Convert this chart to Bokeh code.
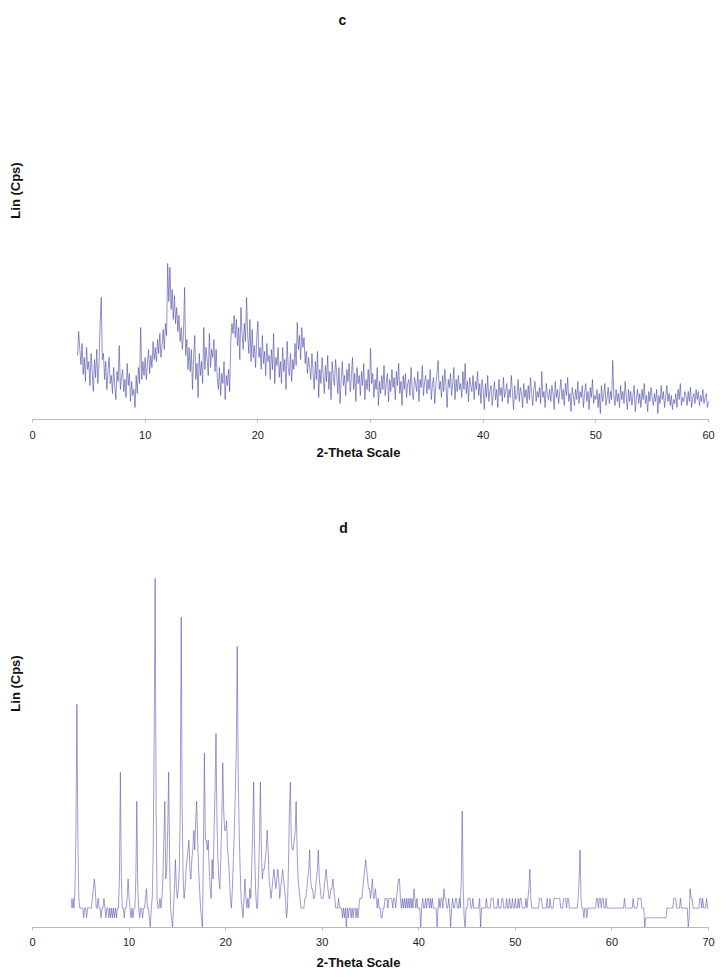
from bokeh.plotting import figure
from bokeh.models import Range1d, FixedTicker, Label
from bokeh.layouts import column
from bokeh.embed import file_html
from bokeh.resources import INLINE
import numpy as np

# ---------------- data ----------------
c_title = "c"
d_title = "d"
x_label = "2-Theta Scale"
y_label = "Lin (Cps)"

c_start, c_step = 4.0, 0.1
c_counts = [
    64, 88, 70, 55, 76, 45, 62, 38, 72, 50,   # 4
    58, 34, 66, 48, 28, 60, 42, 70, 36, 55,   # 5
    95, 122, 60, 66, 40, 58, 30, 48, 62, 36,  # 6
    44, 26, 52, 34, 20, 48, 38, 74, 30, 42,   # 7
    50, 28, 40, 22, 56, 34, 46, 18, 38, 24,   # 8
    30, 12, 44, 26, 52, 36, 92, 40, 58, 44,   # 9
    62, 40, 56, 70, 46, 64, 52, 78, 60, 72,   # 10
    58, 80, 66, 86, 62, 74, 90, 70, 96, 84,   # 11
    156, 118, 152, 110, 130, 100, 124, 96, 112, 88,  # 12
    104, 78, 92, 70, 86, 132, 64, 80, 50, 72,  # 13
    48, 70, 30, 62, 84, 40, 56, 22, 66, 44,   # 14
    58, 36, 92, 50, 72, 60, 44, 86, 52, 70,   # 15
    62, 80, 48, 70, 42, 30, 52, 24, 46, 36,   # 16
    58, 20, 44, 34, 50, 28, 78, 96, 86, 104,  # 17
    82, 100, 74, 92, 60, 112, 86, 70, 96, 78, # 18
    122, 84, 66, 100, 58, 90, 62, 74, 52, 80, # 19
    98, 62, 72, 50, 84, 56, 68, 44, 76, 58,   # 20
    64, 40, 70, 50, 86, 36, 62, 54, 72, 42,   # 21
    58, 36, 72, 48, 60, 30, 78, 52, 44, 66,   # 22
    38, 60, 50, 76, 54, 97, 70, 84, 60, 92,   # 23
    72, 82, 56, 68, 46, 62, 52, 40, 66, 48,   # 24
    30, 58, 40, 68, 22, 50, 36, 62, 44, 26,   # 25
    54, 38, 64, 30, 48, 20, 58, 42, 34, 60,   # 26
    46, 26, 52, 16, 40, 58, 34, 44, 24, 50,   # 27
    38, 56, 28, 42, 62, 30, 46, 18, 52, 36,   # 28
    44, 24, 48, 34, 56, 20, 40, 30, 50, 28,   # 29
    71, 36, 46, 22, 40, 30, 52, 14, 38, 26,   # 30
    44, 30, 54, 24, 36, 46, 18, 40, 28, 50,   # 31
    32, 42, 20, 48, 34, 56, 26, 38, 14, 44,   # 32
    30, 46, 22, 36, 40, 24, 52, 30, 20, 42,   # 33
    36, 28, 48, 18, 40, 32, 54, 24, 38, 44,   # 34
    26, 40, 30, 50, 20, 36, 42, 16, 34, 46,   # 35
    59, 30, 38, 22, 44, 28, 50, 34, 12, 40,   # 36
    32, 46, 24, 36, 52, 20, 40, 28, 44, 30,   # 37
    36, 22, 48, 30, 56, 26, 38, 18, 42, 34,   # 38
    28, 44, 20, 38, 30, 48, 24, 36, 16, 40,   # 39
    30, 10, 36, 22, 44, 18, 28, 34, 14, 26,   # 40
    38, 20, 30, 12, 40, 24, 32, 18, 42, 22,   # 41
    28, 36, 16, 30, 22, 44, 26, 10, 34, 20,   # 42
    24, 40, 18, 32, 26, 12, 36, 22, 30, 16,   # 43
    34, 20, 42, 26, 14, 30, 38, 18, 28, 22,   # 44
    32, 16, 48, 22, 28, 12, 36, 24, 20, 30,   # 45
    18, 34, 26, 10, 38, 22, 30, 16, 28, 40,   # 46
    20, 30, 14, 36, 24, 42, 18, 26, 8, 32,    # 47
    24, 14, 30, 20, 38, 16, 28, 22, 34, 12,   # 48
    26, 36, 18, 28, 10, 32, 22, 40, 16, 24,   # 49
    20, 30, 12, 26, 6, 34, 18, 24, 36, 14,    # 50
    22, 32, 16, 28, 20, 59, 24, 14, 30, 18,   # 51
    26, 12, 34, 20, 28, 16, 38, 22, 10, 30,   # 52
    18, 28, 14, 24, 34, 8, 22, 30, 16, 26,    # 53
    12, 30, 20, 36, 16, 24, 8, 28, 18, 32,    # 54
    22, 14, 26, 18, 30, 6, 24, 16, 34, 20,    # 55
    28, 12, 22, 34, 18, 26, 14, 24, 10, 20,   # 56
    16, 26, 12, 30, 20, 36, 14, 22, 18, 28,   # 57
    24, 14, 28, 18, 32, 12, 22, 26, 16, 30,   # 58
    20, 28, 14, 24, 18, 30, 16, 22, 26, 12,   # 59
    18,                                       # 60
]

d_start, d_step = 4.0, 0.1
d_counts = [
    3, 2, 3, 2, 4, 10, 23, 9, 3, 2,     # 4
    2, 2, 2, 1, 2, 2, 1, 2, 2, 2,       # 5
    2, 2, 3, 4, 5, 4, 2, 2, 3, 2,       # 6
    2, 1, 2, 2, 3, 2, 1, 2, 2, 1,       # 7
    2, 1, 2, 1, 2, 1, 2, 1, 2, 2,       # 8
    5, 16, 5, 2, 2, 1, 2, 2, 3, 5,      # 9
    3, 2, 1, 2, 1, 2, 2, 5, 13, 4,      # 10
    2, 1, 2, 2, 1, 2, 2, 3, 4, 2,       # 11
    2, 1, 0, 2, 3, 8, 20, 36, 12, 3,    # 12
    2, 2, 3, 2, 3, 5, 9, 13, 5, 6,      # 13
    10, 16, 7, 2, 1, 0, 2, 4, 7, 4,     # 14
    3, 4, 6, 12, 32, 12, 5, 3, 4, 6,    # 15
    7, 8, 9, 6, 5, 7, 8, 10, 8, 11,     # 16
    13, 9, 6, 4, 2, 1, 0, 8, 18, 9,     # 17
    9, 8, 9, 6, 4, 3, 7, 5, 10, 14,     # 18
    20, 11, 7, 5, 4, 7, 11, 17, 12, 10, # 19
    10, 11, 8, 7, 5, 3, 2, 4, 7, 10,    # 20
    14, 18, 29, 16, 10, 6, 3, 2, 1, 3,  # 21
    5, 3, 2, 3, 2, 4, 3, 6, 10, 15,     # 22
    8, 4, 2, 2, 5, 9, 15, 8, 5, 6,      # 23
    6, 7, 8, 10, 8, 5, 4, 3, 4, 5,      # 24
    6, 5, 4, 5, 6, 5, 3, 4, 5, 6,       # 25
    5, 4, 3, 1, 2, 6, 12, 15, 9, 8,     # 26
    8, 9, 10, 13, 8, 5, 4, 3, 2, 2,     # 27
    2, 2, 3, 3, 4, 5, 6, 8, 5, 4,       # 28
    4, 3, 3, 4, 5, 6, 8, 5, 4, 3,       # 29
    3, 3, 4, 5, 6, 5, 4, 3, 3, 4,       # 30
    4, 5, 4, 3, 2, 2, 2, 3, 2, 2,       # 31
    2, 1, 2, 1, 2, 0, 2, 1, 2, 2,       # 32
    1, 2, 1, 2, 2, 1, 2, 1, 2, 3,       # 33
    3, 3, 4, 5, 6, 7, 6, 5, 4, 4,       # 34
    3, 4, 5, 3, 3, 4, 3, 2, 3, 2,       # 35
    2, 1, 1, 2, 2, 3, 3, 3, 2, 3,       # 36
    3, 3, 3, 2, 3, 3, 2, 3, 4, 5,       # 37
    5, 3, 2, 3, 2, 3, 2, 3, 2, 3,       # 38
    2, 3, 2, 3, 2, 4, 3, 2, 3, 2,       # 39
    2, 2, 0, 2, 3, 2, 2, 3, 2, 3,       # 40
    3, 2, 3, 2, 3, 2, 2, 2, 2, 0,       # 41
    2, 3, 2, 3, 3, 2, 4, 3, 3, 2,       # 42
    2, 3, 2, 0, 2, 3, 2, 2, 3, 3,       # 43
    2, 2, 3, 2, 5, 12, 4, 1, 0, 2,      # 44
    2, 3, 3, 3, 2, 2, 3, 2, 2, 2,       # 45
    2, 2, 2, 3, 0, 2, 2, 2, 2, 2,       # 46
    3, 2, 2, 2, 2, 3, 3, 3, 2, 2,       # 47
    2, 2, 3, 2, 2, 2, 3, 3, 2, 2,       # 48
    2, 3, 2, 2, 3, 2, 2, 3, 2, 2,       # 49
    3, 2, 2, 3, 2, 3, 3, 2, 2, 2,       # 50
    2, 3, 2, 3, 4, 6, 3, 2, 2, 2,       # 51
    2, 2, 2, 2, 2, 3, 3, 3, 2, 2,       # 52
    2, 2, 2, 3, 2, 2, 3, 2, 2, 2,       # 53
    3, 3, 3, 3, 3, 3, 3, 2, 2, 2,       # 54
    3, 3, 3, 2, 3, 3, 2, 2, 2, 2,       # 55
    2, 2, 2, 2, 2, 3, 5, 8, 3, 2,       # 56
    2, 1, 2, 2, 1, 2, 2, 2, 2, 2,       # 57
    2, 2, 2, 2, 3, 3, 2, 3, 3, 2,       # 58
    3, 3, 2, 2, 3, 2, 2, 2, 2, 2,       # 59
    2, 2, 2, 2, 2, 2, 2, 2, 2, 2,       # 60
    2, 2, 2, 3, 2, 2, 2, 2, 2, 2,       # 61
    2, 2, 3, 2, 2, 2, 2, 3, 3, 3,       # 62
    3, 2, 2, 2, 0, 1, 1, 1, 1, 1,       # 63
    1, 1, 1, 1, 1, 1, 1, 1, 1, 1,       # 64
    1, 1, 1, 1, 1, 1, 1, 2, 2, 2,       # 65
    2, 2, 2, 2, 3, 3, 3, 2, 2, 2,       # 66
    2, 3, 2, 2, 2, 2, 2, 2, 2, 0,       # 67
    1, 4, 3, 3, 2, 2, 2, 2, 2, 2,       # 68
    2, 3, 3, 2, 3, 2, 2, 2, 3, 2,       # 69
    2,                                  # 70
]

c_ticks = [0, 10, 20, 30, 40, 50, 60]
d_ticks = [0, 10, 20, 30, 40, 50, 60, 70]
c_xmax = 60
d_xmax = 70
c_px_per_count = 1.0   # vertical pixels per count unit (c)
d_px_per_count = 9.7   # vertical pixels per count unit (d)

c_theta = np.round(c_start + c_step * np.arange(len(c_counts)), 2)
d_theta = np.round(d_start + d_step * np.arange(len(d_counts)), 2)

FONT = "Liberation Sans"
FIG_W = 716
AXIS_L, AXIS_R = 32, 708   # pixel span of the drawn x axis


def make_panel(theta, counts, title, xmax, ticks, height, frame_h, px_per_count,
               line_color, title_pos, ylab_pos, lab_standoff, axlab_standoff):
    ppu = (AXIS_R - AXIS_L) / xmax
    xr = Range1d(-AXIS_L / ppu, xmax + (FIG_W - AXIS_R) / ppu)
    yr = Range1d(0, frame_h / px_per_count)
    p = figure(width=FIG_W, height=height, output_backend="svg", toolbar_location=None,
               title=None, x_range=xr, y_range=yr,
               min_border_left=0, min_border_right=0, min_border_top=0,
               min_border_bottom=height - frame_h)
    p.line(theta, counts, line_color=line_color, line_width=0.6)
    p.xgrid.visible = False
    p.ygrid.visible = False
    p.outline_line_color = None
    p.yaxis.visible = False
    ax = p.xaxis[0]
    ax.bounds = (0, xmax)
    ax.ticker = FixedTicker(ticks=ticks)
    ax.minor_tick_line_color = None
    ax.axis_line_color = "#b8b8b8"
    ax.major_tick_line_color = "#b8b8b8"
    ax.major_tick_in = 0
    ax.major_tick_out = 3
    ax.major_label_text_font = FONT
    ax.major_label_text_font_size = "11px"
    ax.major_label_text_color = "#222222"
    ax.major_label_standoff = lab_standoff
    ax.axis_label = x_label
    ax.axis_label_text_font = FONT
    ax.axis_label_text_font_style = "bold"
    ax.axis_label_text_font_size = "13px"
    ax.axis_label_text_color = "#111111"
    ax.axis_label_standoff = axlab_standoff
    # panel letter
    p.add_layout(Label(x=title_pos[0], y=frame_h - title_pos[1], x_units="screen",
                       y_units="screen", text=title, text_font=FONT,
                       text_font_style="bold", text_font_size="14px",
                       text_align="center", text_baseline="middle",
                       text_color="#111111"))
    # rotated y-axis title
    p.add_layout(Label(x=ylab_pos[0], y=frame_h - ylab_pos[1], x_units="screen",
                       y_units="screen", text=y_label, text_font=FONT,
                       text_font_style="bold", text_font_size="13px",
                       text_align="center", text_baseline="middle",
                       angle=np.pi / 2, text_color="#111111"))
    return p


p1 = make_panel(c_theta, c_counts, c_title, c_xmax, c_ticks, 516, 419, c_px_per_count,
                "#4848a6", (342, 19), (15, 190), 8, 3)
p2 = make_panel(d_theta, d_counts, d_title, d_xmax, d_ticks, 463, 411, d_px_per_count,
                "#5a5ab4", (343, 11), (15, 167), 7, 6)

layout = column(p1, p2, spacing=0)
open("out.html", "w").write(file_html(layout, INLINE))
